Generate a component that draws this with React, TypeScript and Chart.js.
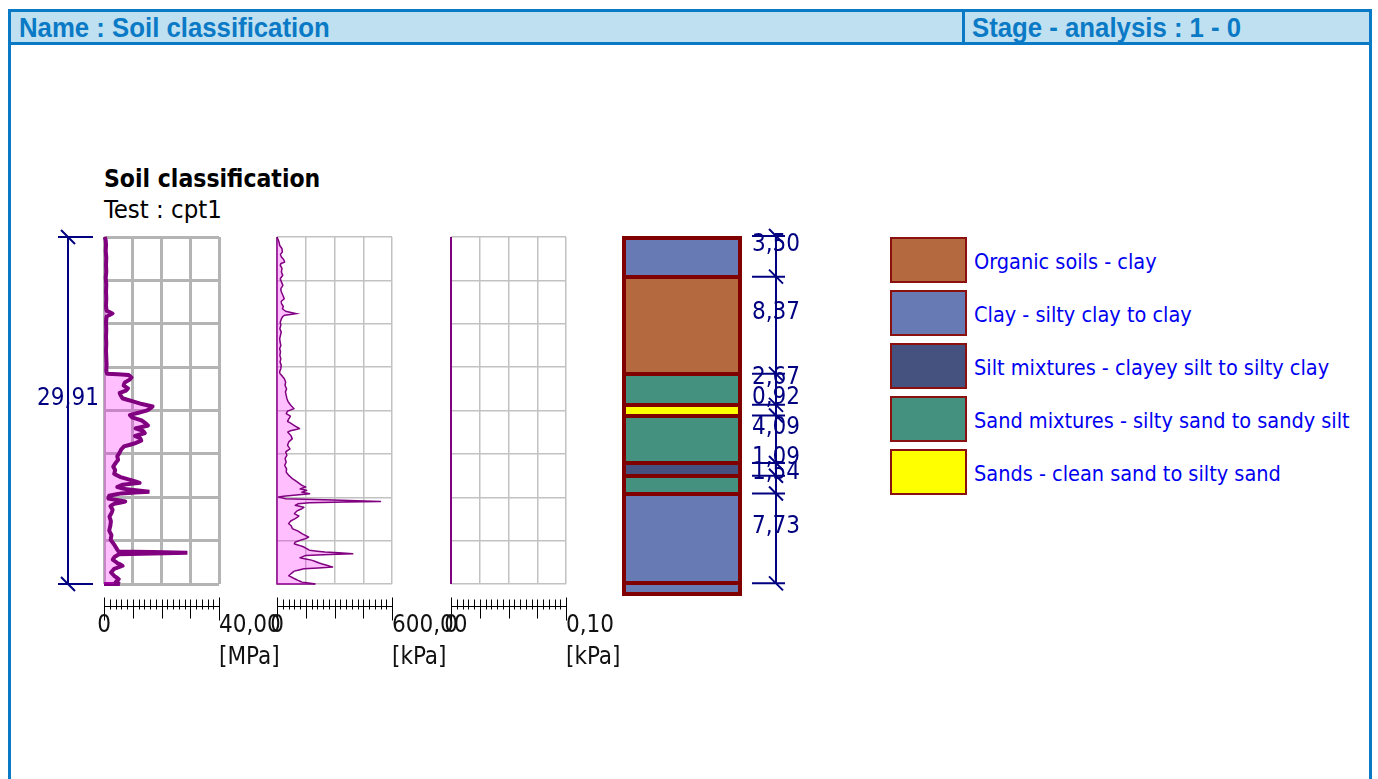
import React, { useEffect, useRef } from 'react';
import { Chart, registerables } from 'chart.js';

Chart.register(...registerables);

// ---------------- data ----------------
const TEST_DEPTH = 29.91;
const COLUMN_DEPTH = 31.0;

const QC_DEPTH = [0, 0.3, 0.7, 1.2, 1.8, 2.4, 3.0, 3.5, 4.1, 4.7, 5.3, 5.9, 6.35, 6.6, 6.85, 7.4, 8.0, 8.6, 9.2, 9.8,
  10.4, 11.0, 11.5, 11.78, 11.9, 12.1, 12.3, 12.55, 12.8, 13.05, 13.25, 13.45, 13.65, 13.9, 14.15, 14.4, 14.6, 14.75,
  14.95, 15.15, 15.35, 15.55, 15.8, 16.05, 16.25, 16.5, 16.7, 16.9, 17.15, 17.35, 17.55, 17.8, 18.05, 18.3, 18.6, 18.9,
  19.2, 19.5, 19.8, 20.1, 20.4, 20.7, 20.95, 21.2, 21.35, 21.55, 21.75, 21.95, 22.1, 22.3, 22.55, 22.8, 23.0, 23.2, 23.5,
  23.8, 24.1, 24.5, 24.9, 25.3, 25.7, 26.1, 26.5, 26.9, 27.1, 27.22, 27.35, 27.55, 27.8, 28.1, 28.35, 28.6, 28.9, 29.2,
  29.5, 29.75, 29.91];
const QC_MPA = [0.3, 0.6, 0.7, 0.6, 0.8, 0.7, 0.8, 0.6, 0.8, 0.7, 0.8, 0.7, 0.9, 3.0, 0.9, 0.7, 0.8, 0.7, 0.8, 0.7,
  0.8, 0.9, 0.8, 1.0, 8.6, 9.6, 8.9, 7.2, 6.8, 8.4, 7.6, 5.4, 5.8, 6.4, 9.8, 13.2, 16.9, 16.2,
  15.0, 12.0, 9.0, 9.8, 13.0, 14.4, 15.3, 11.0, 13.5, 14.2, 10.8, 12.6, 13.0, 10.5, 7.0, 6.0, 5.4, 4.6,
  4.9, 4.0, 3.2, 3.9, 3.5, 5.8, 9.4, 12.4, 6.5, 4.6, 8.0, 15.8, 6.0, 1.8, 1.5, 7.4, 3.5, 2.2, 3.0,
  2.6, 1.9, 2.4, 2.2, 1.8, 2.6, 2.3, 3.5, 4.5, 5.0, 29.0, 5.2, 3.8, 3.0, 4.6, 6.5, 3.6, 2.4, 3.5,
  5.2, 4.0, 5.5];

const FS_DEPTH = [0, 0.4, 0.72, 1.0, 1.29, 1.5, 1.72, 1.95, 2.16, 2.3, 2.44, 2.7, 3.02, 3.3, 3.59, 3.9, 4.17, 4.45,
  4.74, 5.0, 5.32, 5.55, 5.75, 6.0, 6.18, 6.4, 6.61, 6.75, 6.9, 7.1, 7.33, 7.6, 7.9, 8.2, 8.48, 8.75, 9.05, 9.35, 9.63,
  9.9, 10.2, 10.5, 10.78, 11.05, 11.35, 11.6, 11.78, 12.0, 12.21, 12.5, 12.79, 13.1, 13.36, 13.65, 13.94, 14.2, 14.51,
  14.8, 15.0, 15.23, 15.45, 15.66, 15.9, 16.09, 16.3, 16.52, 16.7, 16.81, 17.1, 17.39, 17.65, 17.96, 18.25, 18.53,
  18.8, 19.11, 19.4, 19.68, 20.0, 20.26, 20.55, 20.83, 21.1, 21.41, 21.55, 21.7, 21.84, 22.0, 22.13, 22.3, 22.41,
  22.56, 22.79, 22.9, 23.0, 23.13, 23.3, 23.42, 23.6, 23.85, 24.05, 24.28, 24.5, 24.71, 24.9, 25.14, 25.35, 25.57,
  25.86, 26.0, 26.15, 26.3, 26.44, 26.6, 26.72, 26.9, 27.01, 27.15, 27.3, 27.45, 27.65, 27.85, 28.1, 28.3, 28.45,
  28.6, 28.8, 29.0, 29.2, 29.4, 29.6, 29.75, 29.91];
const FS_KPA = [0, 10, 14, 26, 28, 18, 23, 35, 40, 20, 17, 26, 23, 30, 17, 24, 31, 20,
  23, 30, 38, 22, 24, 33, 28, 45, 100, 40, 28, 22, 17, 20, 15, 22, 18, 14, 16, 20, 14,
  18, 15, 20, 16, 22, 20, 14, 16, 28, 38, 45, 42, 50, 44, 48, 52, 58, 72,
  90, 55, 48, 70, 62, 55, 75, 95, 118, 70, 55, 72, 80, 62, 55, 68, 45,
  52, 42, 48, 40, 50, 48, 62, 80, 105, 130, 150, 120, 155, 130, 170, 60, 8,
  45, 540, 170, 110, 95, 140, 130, 105, 90, 115, 95, 70, 60, 75, 80, 110, 130,
  165, 150, 120, 95, 90, 120, 140, 160, 170, 250, 395, 150, 120, 180, 220, 260, 290,
  140, 90, 75, 60, 85, 110, 130, 200];

const U2_DEPTH = [0, 29.91];
const U2_KPA = [0, 0];

const AXIS_MAX = [40, 600, 0.1];
const AXIS_UNITS = ['[MPa]', '[kPa]', '[kPa]'];

const SOIL_NAMES = [
  'Organic soils - clay',
  'Clay - silty clay to clay',
  'Silt mixtures - clayey silt to silty clay',
  'Sand mixtures - silty sand to sandy silt',
  'Sands - clean sand to silty sand',
];
const SOIL_COLORS = ['#B5693F', '#687AB4', '#45527F', '#449180', '#FFFF00'];

const LAYER_THICKNESS = [3.5, 8.37, 2.67, 0.92, 4.09, 1.09, 1.54, 7.73, 1.09];
const LAYER_SOIL = [1, 0, 3, 4, 3, 2, 3, 1, 1];
const LABELED_LAYERS = 8;

// ---------------- style / layout ----------------
const FONT = '"DejaVu Sans Condensed", "DejaVu Sans", sans-serif';
const NAVY = '#000080';
const PURPLE = '#800080';
const LAYER_BORDER = '#800000';
const FILL = 'rgba(255, 0, 255, 0.25)';
const FRAME_BLUE = '#0A7AC6';
const HEADER_BG = '#BEE0F0';
const fmt = (v: number) => v.toFixed(2).replace('.', ',');

const PLOT_LEFT = [104, 277, 451];
const PLOT_W = 115;
const PLOT_TOP = 237;
const PLOT_H = 347;
const CANVAS_TOP = 220;
const PAD_LEFT = [84, 30, 30];
const PAD_RIGHT = 80;
const PAD_BOTTOM = 96;

const COL_CANVAS = { left: 600, top: 220, width: 230, height: 400 };
const COL_PAD = { left: 22, right: 88, top: 16, bottom: 24 };

const PLOT_STYLE = [
  { lineWidth: 4, gridWidth: 3, gridColor: '#B4B4B4', closeLeft: false },
  { lineWidth: 1.5, gridWidth: 1.5, gridColor: '#C2C2C2', closeLeft: true },
  { lineWidth: 2, gridWidth: 1.5, gridColor: '#C2C2C2', closeLeft: false },
];
const SERIES = [
  { depth: QC_DEPTH, values: QC_MPA },
  { depth: FS_DEPTH, values: FS_KPA },
  { depth: U2_DEPTH, values: U2_KPA },
];

function plotDecor(i: number) {
  return {
    id: 'plotDecor' + i,
    afterDraw(chart: any) {
      const { ctx } = chart;
      const xs = chart.scales.x;
      const ys = chart.scales.y;
      const max = AXIS_MAX[i];
      const x0 = xs.getPixelForValue(0);
      const x1 = xs.getPixelForValue(max);
      const yBottom = ys.getPixelForValue(TEST_DEPTH);
      const ry = Math.round(yBottom + 22) + 0.5;
      ctx.save();
      ctx.strokeStyle = '#000';
      ctx.lineWidth = 1;
      ctx.beginPath();
      ctx.moveTo(x0, ry);
      ctx.lineTo(x1, ry);
      for (let k = 0; k <= 20; k++) {
        const x = Math.round(xs.getPixelForValue((max * k) / 20)) + 0.5;
        let top = ry - 7;
        let bottom = ry + 3;
        if (k % 5 === 0) bottom = ry + 12;
        if (k === 0 || k === 20) {
          top = ry - 9;
          bottom = ry + 14;
        }
        ctx.moveTo(x, top);
        ctx.lineTo(x, bottom);
      }
      ctx.stroke();
      ctx.fillStyle = '#111';
      ctx.font = `24px ${FONT}`;
      ctx.textBaseline = 'middle';
      ctx.textAlign = 'center';
      ctx.fillText('0', x0, ry + 19);
      ctx.textAlign = 'left';
      ctx.fillText(fmt(max), x1, ry + 19);
      ctx.fillText(AXIS_UNITS[i], x1, ry + 51);

      if (i === 0) {
        const lx = chart.chartArea.left - 36;
        const yt = ys.getPixelForValue(0);
        const yb = ys.getPixelForValue(TEST_DEPTH);
        ctx.strokeStyle = NAVY;
        ctx.lineWidth = 2;
        ctx.beginPath();
        ctx.moveTo(lx, yt);
        ctx.lineTo(lx, yb);
        for (const y of [yt, yb]) {
          ctx.moveTo(lx - 10, y);
          ctx.lineTo(lx + 25, y);
          ctx.moveTo(lx - 7, y - 7);
          ctx.lineTo(lx + 7, y + 7);
        }
        ctx.stroke();
        ctx.fillStyle = NAVY;
        ctx.textAlign = 'center';
        ctx.fillText(fmt(TEST_DEPTH), lx, (yt + yb) / 2 - 12);
      }
      ctx.restore();
    },
  };
}

const columnDecor = {
  id: 'columnDecor',
  afterDatasetsDraw(chart: any) {
    const { ctx } = chart;
    const ys = chart.scales.y;
    const area = chart.chartArea;
    const bounds = [0];
    for (let k = 0; k < LAYER_THICKNESS.length; k++) bounds.push(bounds[k] + LAYER_THICKNESS[k]);
    ctx.save();
    ctx.fillStyle = LAYER_BORDER;
    bounds.forEach((b, k) => {
      const y = ys.getPixelForValue(b);
      let y0 = y - 2;
      if (k === 0) y0 = y;
      if (k === bounds.length - 1) y0 = y - 4;
      ctx.fillRect(area.left, Math.round(y0), area.right - area.left, 4);
    });
    ctx.restore();
  },
  afterDraw(chart: any) {
    const { ctx } = chart;
    const ys = chart.scales.y;
    const lx = chart.chartArea.right + 34;
    const bounds = [0];
    for (let k = 0; k < LABELED_LAYERS; k++) bounds.push(bounds[k] + LAYER_THICKNESS[k]);
    const py = bounds.map((b) => ys.getPixelForValue(b));
    ctx.save();
    ctx.strokeStyle = NAVY;
    ctx.lineWidth = 2;
    ctx.beginPath();
    ctx.moveTo(lx, py[0]);
    ctx.lineTo(lx, py[py.length - 1]);
    for (const y of py) {
      ctx.moveTo(lx - 24, y);
      ctx.lineTo(lx + 9, y);
      ctx.moveTo(lx - 7, y - 7);
      ctx.lineTo(lx + 7, y + 7);
    }
    ctx.stroke();
    ctx.fillStyle = NAVY;
    ctx.font = `24px ${FONT}`;
    ctx.textAlign = 'center';
    ctx.textBaseline = 'middle';
    for (let k = 0; k < LABELED_LAYERS; k++) {
      ctx.fillText(fmt(LAYER_THICKNESS[k]), lx, (py[k] + py[k + 1]) / 2 - 12);
    }
    ctx.restore();
  },
};

export default function App() {
  const r0 = useRef<HTMLCanvasElement>(null);
  const r1 = useRef<HTMLCanvasElement>(null);
  const r2 = useRef<HTMLCanvasElement>(null);
  const rc = useRef<HTMLCanvasElement>(null);
  const plotRefs = [r0, r1, r2];

  useEffect(() => {
    const charts: Chart[] = [];
    SERIES.forEach((s, i) => {
      const canvas = plotRefs[i].current;
      if (!canvas) return;
      const st = PLOT_STYLE[i];
      const max = AXIS_MAX[i];
      const n = Math.min(s.depth.length, s.values.length);
      const pts = [] as { x: number; y: number }[];
      for (let k = 0; k < n; k++) pts.push({ x: s.values[k], y: s.depth[k] });
      const last = pts[pts.length - 1];
      const closing = st.closeLeft
        ? [{ x: last.x, y: last.y }, { x: 0, y: last.y }, { x: 0, y: 0 }]
        : [{ x: last.x, y: last.y }, { x: 0, y: last.y }];
      const chart = new Chart(canvas, {
        type: 'line',
        data: {
          datasets: [
            {
              data: pts,
              borderColor: PURPLE,
              borderWidth: st.lineWidth,
              backgroundColor: FILL,
              fill: 'origin',
              pointRadius: 0,
              tension: 0.01,
              clip: false,
            },
            {
              data: closing,
              borderColor: PURPLE,
              borderWidth: st.lineWidth,
              fill: false,
              pointRadius: 0,
              tension: 0,
              clip: false,
            },
          ],
        },
        options: {
          indexAxis: 'y',
          responsive: false,
          animation: false,
          devicePixelRatio: 1,
          events: [],
          layout: { padding: { left: PAD_LEFT[i], right: PAD_RIGHT, top: PLOT_TOP - CANVAS_TOP, bottom: PAD_BOTTOM } },
          plugins: { legend: { display: false }, tooltip: { enabled: false } },
          scales: {
            x: {
              type: 'linear',
              position: 'bottom',
              min: 0,
              max,
              ticks: { display: false },
              afterBuildTicks: (sc: any) => {
                sc.ticks = [0, 1, 2, 3, 4].map((k) => ({ value: (max * k) / 4 }));
              },
              grid: { color: st.gridColor, lineWidth: st.gridWidth, drawTicks: false },
              border: { display: false },
            },
            y: {
              type: 'linear',
              position: 'left',
              reverse: true,
              min: 0,
              max: TEST_DEPTH,
              ticks: { display: false },
              afterBuildTicks: (sc: any) => {
                sc.ticks = [0, 1, 2, 3, 4, 5, 6, 7, 8].map((k) => ({ value: (TEST_DEPTH * k) / 8 }));
              },
              grid: { color: st.gridColor, lineWidth: st.gridWidth, drawTicks: false },
              border: { display: false },
            },
          },
        } as any,
        plugins: [plotDecor(i)],
      });
      charts.push(chart);
    });

    if (rc.current) {
      charts.push(
        new Chart(rc.current, {
          type: 'bar',
          data: {
            labels: [''],
            datasets: LAYER_THICKNESS.map((t, k) => ({
              data: [t],
              backgroundColor: SOIL_COLORS[LAYER_SOIL[k]],
              borderColor: LAYER_BORDER,
              borderWidth: { top: 0, bottom: 0, left: 4, right: 4 },
              borderSkipped: false,
              inflateAmount: 0,
              categoryPercentage: 1,
              barPercentage: 1,
              stack: 'soil',
            })),
          },
          options: {
            responsive: false,
            animation: false,
            devicePixelRatio: 1,
            events: [],
            layout: { padding: COL_PAD },
            plugins: { legend: { display: false }, tooltip: { enabled: false } },
            scales: {
              x: { stacked: true, display: false },
              y: { stacked: true, display: false, reverse: true, min: 0, max: COLUMN_DEPTH },
            },
          } as any,
          plugins: [columnDecor],
        })
      );
    }
    return () => charts.forEach((c) => c.destroy());
  }, []);

  const headerText: React.CSSProperties = {
    position: 'absolute',
    top: 12,
    height: 30,
    lineHeight: '32px',
    fontFamily: '"Liberation Sans", Arial, sans-serif',
    fontWeight: 'bold',
    fontSize: 28,
    color: FRAME_BLUE,
    whiteSpace: 'nowrap',
    transform: 'scaleX(0.92)',
    transformOrigin: 'left center',
  };

  return (
    <div style={{ position: 'absolute', left: 0, top: 0, width: 1378, height: 779, overflow: 'hidden', background: '#fff' }}>
      <div style={{ position: 'absolute', left: 8, top: 9, width: 1364, height: 820, border: `3px solid ${FRAME_BLUE}`, boxSizing: 'border-box' }} />
      <div style={{ position: 'absolute', left: 11, top: 12, width: 1358, height: 30, background: HEADER_BG, borderBottom: `3px solid ${FRAME_BLUE}` }} />
      <div style={{ position: 'absolute', left: 962, top: 12, width: 3, height: 30, background: FRAME_BLUE }} />
      <div style={{ ...headerText, left: 19 }}>Name : Soil classification</div>
      <div style={{ ...headerText, left: 972 }}>Stage - analysis : 1 - 0</div>

      <div style={{ position: 'absolute', left: 104, top: 164, fontFamily: FONT, fontWeight: 'bold', fontSize: 24.5, color: '#000', whiteSpace: 'nowrap' }}>
        Soil classification
      </div>
      <div style={{ position: 'absolute', left: 104, top: 194, fontFamily: FONT, fontSize: 25.5, color: '#000', whiteSpace: 'nowrap' }}>
        Test : cpt1
      </div>

      {PLOT_LEFT.map((pl, i) => {
        const w = PAD_LEFT[i] + PLOT_W + PAD_RIGHT;
        const h = PLOT_TOP - CANVAS_TOP + PLOT_H + PAD_BOTTOM;
        return (
          <canvas
            key={i}
            ref={plotRefs[i]}
            width={w}
            height={h}
            style={{ position: 'absolute', left: pl - PAD_LEFT[i], top: CANVAS_TOP, width: w, height: h }}
          />
        );
      })}
      <canvas
        ref={rc}
        width={COL_CANVAS.width}
        height={COL_CANVAS.height}
        style={{ position: 'absolute', left: COL_CANVAS.left, top: COL_CANVAS.top, width: COL_CANVAS.width, height: COL_CANVAS.height }}
      />

      {SOIL_NAMES.map((name, k) => (
        <React.Fragment key={name}>
          <div
            style={{
              position: 'absolute',
              left: 890,
              top: 237 + 53 * k,
              width: 77,
              height: 46,
              boxSizing: 'border-box',
              background: SOIL_COLORS[k],
              border: '2px solid #8B1010',
            }}
          />
          <div
            style={{
              position: 'absolute',
              left: 974,
              top: 239 + 53 * k,
              height: 46,
              lineHeight: '46px',
              fontFamily: FONT,
              fontSize: 21.5,
              color: '#0000F0',
              whiteSpace: 'nowrap',
            }}
          >
            {name}
          </div>
        </React.Fragment>
      ))}
    </div>
  );
}
